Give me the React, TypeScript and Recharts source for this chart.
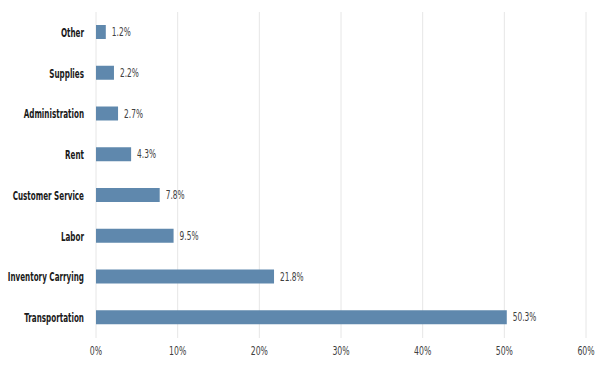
import { BarChart, Bar, XAxis, YAxis, CartesianGrid, LabelList } from 'recharts'

const categories = [
  'Other',
  'Supplies',
  'Administration',
  'Rent',
  'Customer Service',
  'Labor',
  'Inventory Carrying',
  'Transportation',
]
const shares = [1.2, 2.2, 2.7, 4.3, 7.8, 9.5, 21.8, 50.3]
const xTicks = [0, 10, 20, 30, 40, 50, 60]

const data = categories.map((name, i) => ({ name, share: shares[i] }))

const font = "'DejaVu Sans', sans-serif"

// narrow face like the original: condensed DejaVu squeezed a bit more
function Narrow({ x, y, anchor, size, bold, fill, dy, squeeze = 0.72, children }: any) {
  return (
    <g transform={`translate(${x},${y}) scale(${squeeze},1)`}>
      <text
        x={0}
        y={0}
        dy={dy}
        textAnchor={anchor}
        fontSize={size}
        fontWeight={bold ? 'bold' : 'normal'}
        fill={fill}
        style={{ fontFamily: font, fontStretch: 'condensed' }}
      >
        {children}
      </text>
    </g>
  )
}

const CategoryTick = (props: any) => (
  <Narrow x={props.x} y={props.y} anchor="end" size={12.5} squeeze={0.64} bold fill="#1a1a1a" dy="0.35em">
    {props.payload.value}
  </Narrow>
)

const PercentTick = (props: any) => (
  <Narrow x={props.x} y={props.y} anchor="middle" size={12} fill="#404040" dy="0.71em">
    {`${props.payload.value}%`}
  </Narrow>
)

const ValueLabel = (props: any) => {
  const { x, y, width, height, value } = props
  return (
    <Narrow x={x + width + 6} y={y + height / 2} anchor="start" size={11.5} fill="#404040" dy="0.35em">
      {`${Number(value).toFixed(1)}%`}
    </Narrow>
  )
}

export default function App() {
  return (
    <div style={{ position: 'absolute', left: 0, top: 0, background: '#fff' }}>
      <BarChart
        width={597}
        height={366}
        data={data}
        layout="vertical"
        margin={{ top: 12, right: 11, left: 6, bottom: 8 }}
        barSize={14}
      >
        <CartesianGrid horizontal={false} stroke="#e6e6e6" />
        <XAxis
          type="number"
          domain={[0, 60]}
          ticks={xTicks}
          tick={<PercentTick />}
          axisLine={false}
          tickLine={false}
          height={20}
        />
        <YAxis
          type="category"
          dataKey="name"
          width={90}
          tick={<CategoryTick />}
          axisLine={false}
          tickLine={false}
          tickMargin={6}
        />
        <Bar dataKey="share" fill="#5f88ad" isAnimationActive={false}>
          <LabelList dataKey="share" content={<ValueLabel />} />
        </Bar>
      </BarChart>
    </div>
  )
}
